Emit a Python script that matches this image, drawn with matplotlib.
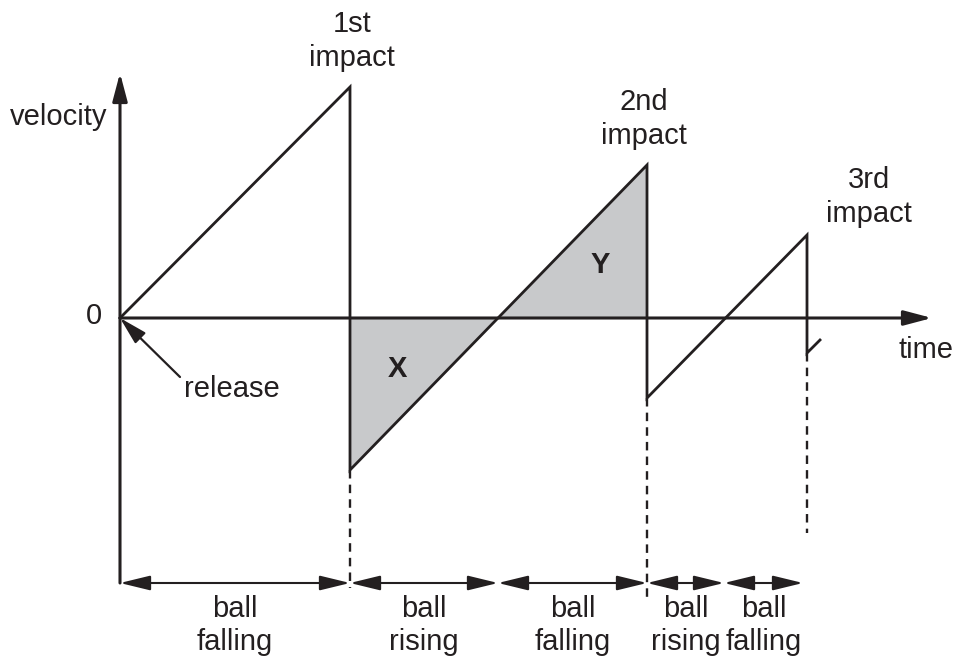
import matplotlib
matplotlib.use("Agg")
import matplotlib.pyplot as plt

# ---- data (time and velocity in arbitrary schematic units) ----
vel_t = [0.0, 2.30, 2.30, 5.27, 5.27, 6.87, 6.87, 7.00]
vel_v = [0.0, 2.31, -1.52, 1.53, -0.80, 0.83, -0.35, -0.22]

shade_t = [2.30, 3.78, 5.27]
shade_v = [-1.52, 0.0, 1.53]

impact_times = [2.30, 5.27, 6.87]
impact_after_v = [-1.52, -0.80, -0.35]
dash_bottom_v = [-2.70, -2.80, -2.15]
impact_labels = ["1st", "2nd", "3rd"]
impact_label_t = [2.32, 5.24, 7.49]
impact_label_v = [2.86, 2.08, 1.30]

phase_bounds = [0.0, 2.30, 3.78, 5.27, 6.04, 6.83]
phase_labels = ["falling", "rising", "falling", "rising", "falling"]

axis_y_range = [-2.65, 2.45]
axis_x_end = 8.12
phase_arrow_v = -2.65

INK = "#231f20"
FILL = "#c8c9cb"
FONT = "Liberation Sans"
FS = 21

fig = plt.figure(figsize=(9.56, 6.6), dpi=100)
ax = fig.add_axes([0, 0, 1, 1])
ax.set_xlim(-1.20, 8.36)
ax.set_ylim(-3.42, 3.18)
ax.axis("off")

# shaded areas X and Y
ax.fill_between(shade_t, shade_v, 0, color=FILL, linewidth=0, zorder=1)

# velocity trace
ax.plot(vel_t, vel_v, color=INK, lw=2.0, solid_joinstyle="miter", zorder=3)

# axes with arrows
head = "-|>,head_length=1.7,head_width=0.45"
ax.annotate("", xy=(0, axis_y_range[1]), xytext=(0, axis_y_range[0]),
            arrowprops=dict(arrowstyle=head, lw=2.2, color=INK,
                            shrinkA=0, shrinkB=0, mutation_scale=10), zorder=4)
ax.annotate("", xy=(axis_x_end, 0), xytext=(0, 0),
            arrowprops=dict(arrowstyle=head, lw=2.2, color=INK,
                            shrinkA=0, shrinkB=0, mutation_scale=10), zorder=4)

# dashed impact lines
for t, v0, v1 in zip(impact_times, impact_after_v, dash_bottom_v):
    ax.plot([t, t], [v0, v1], color=INK, lw=1.7, dashes=(3.6, 2.6), zorder=2)

# phase arrows
for a, b in zip(phase_bounds[:-1], phase_bounds[1:]):
    ax.annotate("", xy=(b, phase_arrow_v), xytext=(a, phase_arrow_v),
                arrowprops=dict(arrowstyle="<|-|>,head_length=1.85,head_width=0.45",
                                lw=1.5, color=INK, shrinkA=0, shrinkB=0,
                                mutation_scale=10), zorder=4)
    mid = (a + b) / 2
    ax.text(mid, -2.99, "ball", ha="center", va="baseline",
            fontsize=FS, family=FONT, color=INK)

for a, b, lab in zip(phase_bounds[:-1], phase_bounds[1:], phase_labels):
    ax.text((a + b) / 2, -3.32, lab, ha="center", va="baseline",
            fontsize=FS, family=FONT, color=INK)

# impact labels
for t, v, lab in zip(impact_label_t, impact_label_v, impact_labels):
    ax.text(t, v, lab, ha="center", va="baseline", fontsize=FS, family=FONT, color=INK)
    ax.text(t, v - 0.34, "impact", ha="center", va="baseline",
            fontsize=FS, family=FONT, color=INK)

# other labels
ax.text(-0.13, 1.93, "velocity", ha="right", va="baseline", fontsize=FS, family=FONT, color=INK)
ax.text(-0.26, -0.06, "0", ha="center", va="baseline", fontsize=FS, family=FONT, color=INK)
ax.text(7.78, -0.40, "time", ha="left", va="baseline", fontsize=FS, family=FONT, color=INK)
ax.text(1.12, -0.79, "release", ha="center", va="baseline", fontsize=FS, family=FONT, color=INK)
ax.annotate("", xy=(0.0, 0.0), xytext=(0.60, -0.59),
            arrowprops=dict(arrowstyle="-|>,head_length=1.7,head_width=0.45",
                            lw=1.6, color=INK, shrinkA=0, shrinkB=0,
                            mutation_scale=10), zorder=5)
ax.text(2.77, -0.59, "X", ha="center", va="baseline", fontsize=FS,
        family=FONT, fontweight="bold", color=INK)
ax.text(4.80, 0.45, "Y", ha="center", va="baseline", fontsize=FS,
        family=FONT, fontweight="bold", color=INK)

fig.savefig("out.png", dpi=100)
